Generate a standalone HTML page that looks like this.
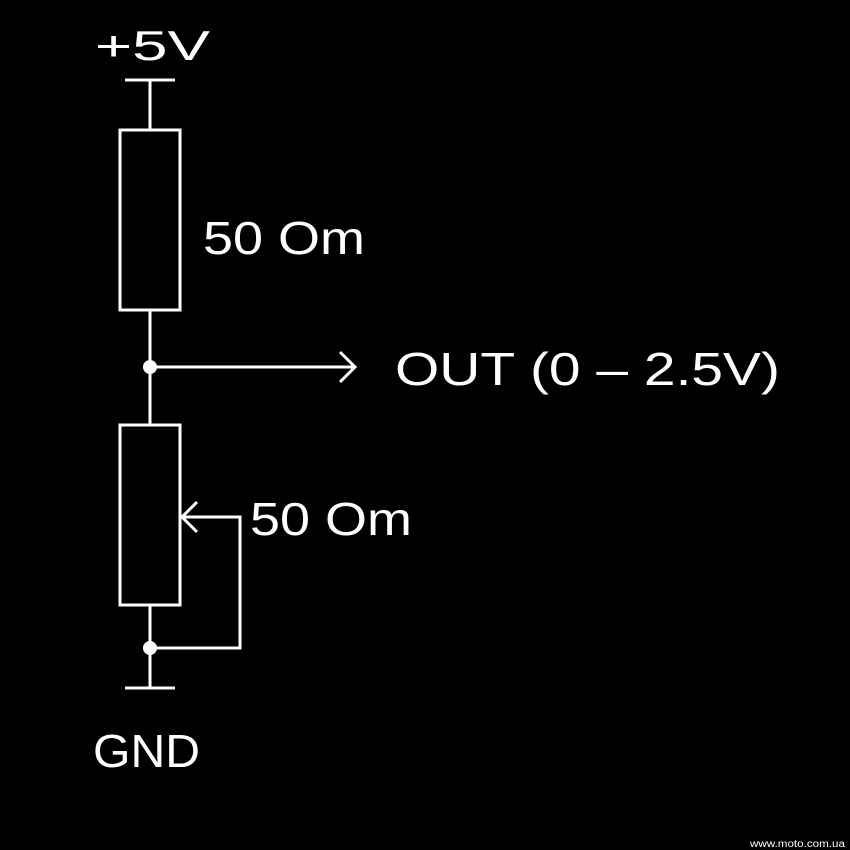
<!DOCTYPE html>
<html><head><style>
html,body{margin:0;padding:0;background:#000;}
svg{display:block;}
text{font-family:"Liberation Sans",sans-serif;fill:#fff;}
</style></head><body>
<svg width="850" height="850" viewBox="0 0 850 850" xmlns="http://www.w3.org/2000/svg">
<rect width="850" height="850" fill="#000"/>
<g stroke="#fff" stroke-width="3" fill="none">
<line x1="125" y1="80" x2="175" y2="80"/>
<line x1="150" y1="80" x2="150" y2="130"/>
<rect x="120" y="130" width="60" height="180"/>
<line x1="150" y1="310" x2="150" y2="425"/>
<line x1="150" y1="367" x2="355" y2="367"/>
<polyline points="340,352 355,367 340,382"/>
<rect x="120" y="425" width="60" height="180"/>
<polyline points="197,502 182,517 197,532"/>
<polyline points="182,517 240,517 240,648 150,648"/>
<line x1="150" y1="605" x2="150" y2="688"/>
<line x1="125" y1="688" x2="175" y2="688"/>
</g>
<circle cx="150" cy="367" r="7" fill="#fff"/>
<circle cx="150" cy="648" r="7" fill="#fff"/>
<text x="95" y="60" font-size="42" textLength="115" lengthAdjust="spacingAndGlyphs">+5V</text>
<text x="203" y="254" font-size="46" textLength="162" lengthAdjust="spacingAndGlyphs">50 Om</text>
<text x="395" y="385" font-size="46" textLength="385" lengthAdjust="spacingAndGlyphs">OUT (0 – 2.5V)</text>
<text x="250" y="535" font-size="46" textLength="162" lengthAdjust="spacingAndGlyphs">50 Om</text>
<text x="93" y="767" font-size="46" textLength="107" lengthAdjust="spacingAndGlyphs">GND</text>
<text x="750" y="847" font-size="10" textLength="95" lengthAdjust="spacingAndGlyphs" fill="#ccc">www.moto.com.ua</text>
</svg>
</body></html>
